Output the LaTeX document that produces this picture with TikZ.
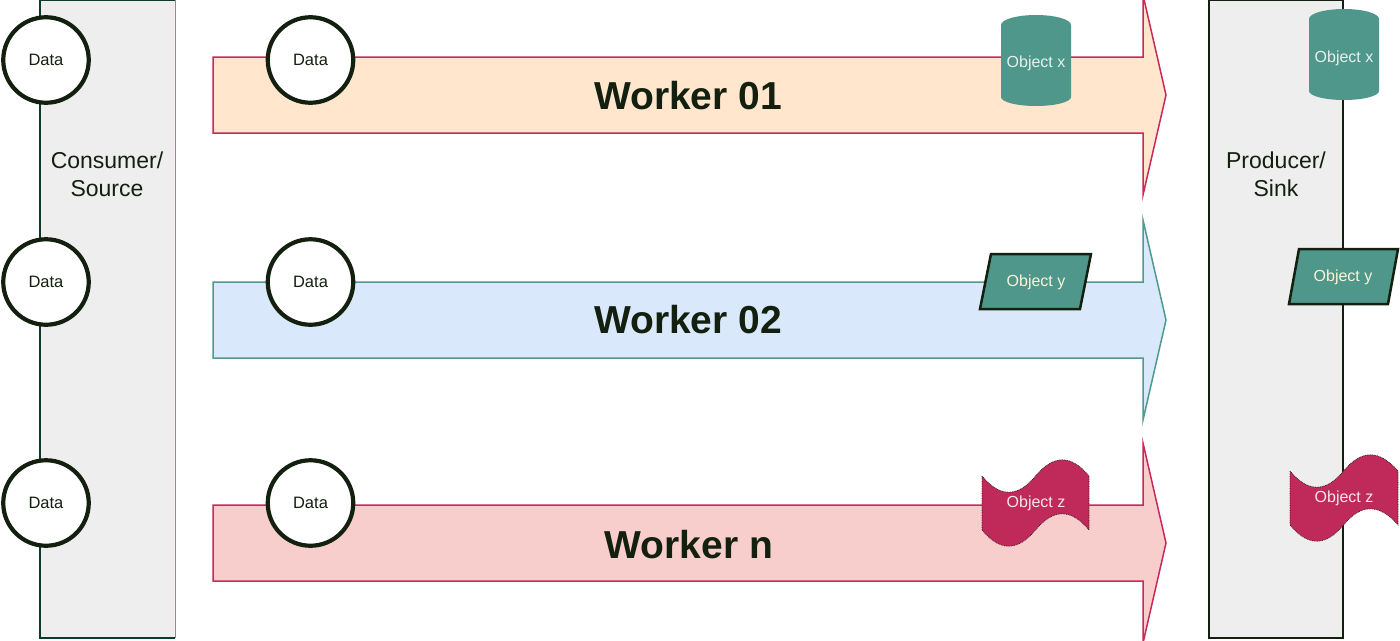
\documentclass[tikz,border=0pt]{standalone}
\usepackage{fontspec}
\setmainfont{Liberation Sans}
\definecolor{dkc}{HTML}{14200F}
\definecolor{panelfill}{HTML}{EEEEEE}
\definecolor{objteal}{HTML}{4E978A}
\definecolor{crim}{HTML}{BF2A5A}
\definecolor{peach}{HTML}{FFE6CC}
\definecolor{lblue}{HTML}{DAE8FC}
\definecolor{lpink}{HTML}{F8CECC}
\definecolor{redline}{HTML}{C8285A}
\definecolor{tealline}{HTML}{4F9A8C}
\definecolor{darkgreen}{HTML}{0E3A2A}
\definecolor{lblx}{HTML}{E8F0F2}
\definecolor{lbly}{HTML}{FFF2D6}
\definecolor{lblz}{HTML}{F6E6EC}
\newcommand{\tapeobj}[3]{%
  \begin{scope}[shift={(#1,#2)}]
    \fill[crim] (0,18) .. controls (17.83,39.6) and (35.67,39.6) .. (53.5,18)
      .. controls (71.33,-3.6) and (89.17,-3.6) .. (#3,18) -- (#3,72)
      .. controls (89.17,50.4) and (71.33,50.4) .. (53.5,72)
      .. controls (35.67,93.6) and (17.83,93.6) .. (0,72) -- cycle;
    \draw[dkc,line width=0.7pt,densely dotted] (0,18) .. controls (17.83,39.6) and (35.67,39.6) .. (53.5,18)
      .. controls (71.33,-3.6) and (89.17,-3.6) .. (#3,18) -- (#3,72)
      .. controls (89.17,50.4) and (71.33,50.4) .. (53.5,72)
      .. controls (35.67,93.6) and (17.83,93.6) .. (0,72) -- cycle;
  \end{scope}}
\begin{document}
\begin{tikzpicture}[x=1pt,y=-1pt,
  datac/.style={circle,draw=dkc,line width=4.2pt,fill=white,minimum size=85.5pt,inner sep=0pt,
    font=\fontsize{16.5}{19}\selectfont,text=dkc},
  wlabel/.style={font=\fontsize{39}{44}\selectfont\bfseries,text=dkc},
  panellabel/.style={align=center,font=\fontsize{23}{28}\selectfont,text=dkc},
  objlabel/.style={font=\fontsize{16}{19}\selectfont,inner sep=0pt},
  arrowshape/.style={line width=1.5pt,line join=miter}]
\useasboundingbox (0,0) rectangle (1400,640);
\fill[white] (0,0) rectangle (1400,640);

% left panel
\fill[panelfill] (40,0) rectangle (175,638);
\draw[darkgreen,line width=1.5pt] (175,0) -- (40,0) -- (40,638) -- (175,638);
\draw[redline!70,line width=1pt] (175,0) -- (175,638);
% right panel
\fill[panelfill] (1209,0) rectangle (1343,638);
\draw[dkc,line width=2pt] (1209,0) rectangle (1343,638);

% arrows
\draw[arrowshape,draw=redline,fill=peach] (213,57) -- (1143,57) -- (1143,-5) -- (1166,95)
  -- (1143,195) -- (1143,133) -- (213,133) -- cycle;
\draw[arrowshape,draw=tealline,fill=lblue] (213,282) -- (1143,282) -- (1143,220) -- (1166,320)
  -- (1143,420) -- (1143,358) -- (213,358) -- cycle;
\draw[arrowshape,draw=redline,fill=lpink] (213,505) -- (1143,505) -- (1143,443) -- (1166,543)
  -- (1143,643) -- (1143,581) -- (213,581) -- cycle;

\node[wlabel] (w1) at (688,96) {Worker 01};
\node[wlabel] (w2) at (688,320) {Worker 02};
\node[wlabel] (wn) at (689,545) {Worker n};

% panel labels
\node[panellabel] (src) at (107,174) {Consumer/\\Source};
\node[panellabel] (snk) at (1276,174) {Producer/\\Sink};

% data circles
\node[datac] (d1) at (46,60) {Data};
\node[datac] (d2) at (46,282) {Data};
\node[datac] (d3) at (46,503) {Data};
\node[datac] (e1) at (310.5,60) {Data};
\node[datac] (e2) at (310.5,282) {Data};
\node[datac] (e3) at (310.5,503) {Data};

% object x cylinders
\fill[objteal] (1001,25) arc[start angle=180,end angle=0,x radius=35pt,y radius=10pt]
  -- (1071,97) arc[start angle=0,end angle=-180,x radius=35pt,y radius=9pt] -- cycle;
\fill[objteal] (1309,19) arc[start angle=180,end angle=0,x radius=35pt,y radius=10pt]
  -- (1379,91) arc[start angle=0,end angle=-180,x radius=35pt,y radius=9pt] -- cycle;
\node[objlabel,text=lblx] (ox1) at (1036,63) {Object x};
\node[objlabel,text=lblx] (ox2) at (1344,58) {Object x};

% object y parallelograms
\draw[fill=objteal,draw=dkc,line width=2.5pt,line join=miter] (991,254) -- (1091,254) -- (1080,309) -- (980,309) -- cycle;
\draw[fill=objteal,draw=dkc,line width=2.5pt,line join=miter] (1299,249) -- (1398,249) -- (1388,304) -- (1289,304) -- cycle;
\node[objlabel,text=lbly] (oy1) at (1036,282) {Object y};
\node[objlabel,text=lbly] (oy2) at (1343,277) {Object y};

% object z tapes
\tapeobj{982}{458}{107}
\tapeobj{1290}{453}{108}
\node[objlabel,text=lblz] (oz1) at (1036,503) {Object z};
\node[objlabel,text=lblz] (oz2) at (1344,498) {Object z};
\end{tikzpicture}
\end{document}
